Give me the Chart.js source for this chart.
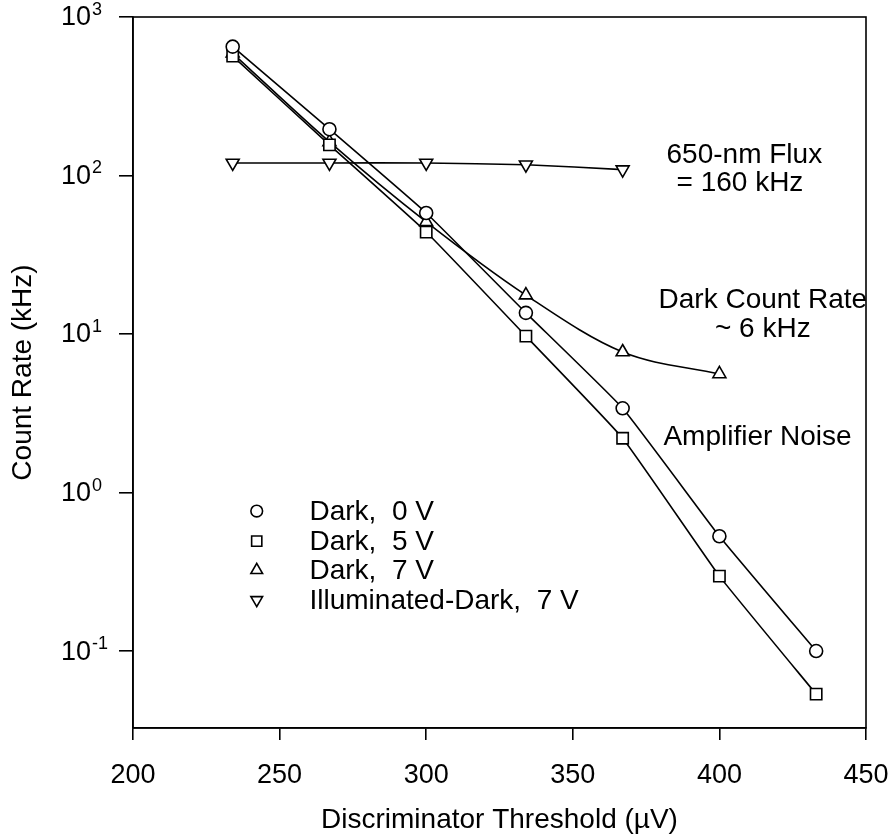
<!DOCTYPE html>
<html>
<head>
<meta charset="utf-8">
<style>
  html, body { margin: 0; padding: 0; background: #fff; }
  canvas { display: block; }
</style>
<script src="https://cdn.jsdelivr.net/npm/chart.js@4/dist/chart.umd.min.js"></script>
</head>
<body>
<canvas id="c" width="893" height="839"></canvas>
<script>
// ---- data ----
const thresholds = [234, 267, 300, 334, 367, 400, 433];          // µV
const dark0V  = [650, 196, 58, 13.6, 3.4, 0.53, 0.1];           // kHz
const dark5V  = [567, 156, 44, 9.7, 2.2, 0.297, 0.0535];
const dark7V  = [590, 163, 51, 17.6, 7.7, 5.6];
const illum7V = [120, 120, 120, 117, 109];
const seriesNames = ['Dark,  0 V', 'Dark,  5 V', 'Dark,  7 V', 'Illuminated-Dark,  7 V'];
const xTickValues = [200, 250, 300, 350, 400, 450];
const yTickValues = [0.1, 1, 10, 100, 1000];
const yTickBase = '10';
const yTickExponents = ['-1', '0', '1', '2', '3'];
const xTitle = 'Discriminator Threshold (\u00B5V)';
const yTitle = 'Count Rate (kHz)';
const noteTexts = ['650-nm Flux', '= 160 kHz', 'Dark Count Rate', '~ 6 kHz', 'Amplifier Noise'];

const FONT = "'Liberation Sans', Arial, Helvetica, sans-serif";
Chart.defaults.font.family = FONT;
Chart.defaults.color = '#000';

function pts(vals) { return vals.map((v, i) => ({ x: thresholds[i], y: v })); }

const markerStyles = [
  { pointStyle: 'circle', radius: 6.5, rotation: 0 },
  { pointStyle: 'rect', radius: 8, rotation: 0 },
  { pointStyle: 'triangle', radius: 7.5, rotation: 0 },
  { pointStyle: 'triangle', radius: 7.5, rotation: 180 }
];

function ds(label, vals, m, smooth) {
  const d = {
    label, data: pts(vals),
    borderColor: '#000', borderWidth: 1.6,
    pointStyle: m.pointStyle, pointRadius: m.radius, pointRotation: m.rotation,
    pointBackgroundColor: '#fff', pointBorderColor: '#000', pointBorderWidth: 1.6,
    fill: false
  };
  if (smooth) d.cubicInterpolationMode = 'monotone'; else d.tension = 0.12;
  return d;
}

// annotation placement in data coordinates (x µV, y kHz)
const notes = [
  { text: noteTexts[0], x: 408.5, y: 134 },
  { text: noteTexts[1], x: 407,   y: 89 },
  { text: noteTexts[2], x: 414.8, y: 16.4 },
  { text: noteTexts[3], x: 414.8, y: 10.7 },
  { text: noteTexts[4], x: 413,   y: 2.24 }
];
const legendPos = { markerX: 242.2, textX: 260.2, rows: [0.764, 0.494, 0.324, 0.21] };
const TEXT_PX = 28;

const overlay = {
  id: 'overlay',
  afterDraw(chart) {
    const { ctx, chartArea: a, scales: { x, y } } = chart;
    ctx.save();
    // frame
    ctx.strokeStyle = '#000';
    ctx.lineWidth = 1.6;
    ctx.strokeRect(a.left, a.top, a.right - a.left, a.bottom - a.top);
    // y tick labels as 10^n
    ctx.fillStyle = '#000';
    ctx.textBaseline = 'middle';
    ctx.textAlign = 'left';
    yTickValues.forEach((v, i) => {
      const py = y.getPixelForValue(v);
      const bx = a.left - 72;
      ctx.font = '27px ' + FONT;
      ctx.fillText(yTickBase, bx, py + 1);
      const w = ctx.measureText(yTickBase).width;
      ctx.font = '18px ' + FONT;
      ctx.fillText(yTickExponents[i], bx + w + 1, py - 7);
    });
    // annotations
    ctx.font = TEXT_PX + 'px ' + FONT;
    ctx.textAlign = 'center';
    notes.forEach(n => {
      ctx.fillText(n.text, x.getPixelForValue(n.x), y.getPixelForValue(n.y));
    });
    // legend
    ctx.textAlign = 'left';
    seriesNames.forEach((name, i) => {
      const py = y.getPixelForValue(legendPos.rows[i]);
      const m = markerStyles[i];
      ctx.fillStyle = '#fff';
      ctx.strokeStyle = '#000';
      ctx.lineWidth = 1.6;
      Chart.helpers.drawPoint(ctx, { pointStyle: m.pointStyle, rotation: m.rotation, radius: m.radius * 0.9, borderWidth: 1.6 },
        x.getPixelForValue(legendPos.markerX), py);
      ctx.fillStyle = '#000';
      ctx.font = TEXT_PX + 'px ' + FONT;
      ctx.fillText(name, x.getPixelForValue(legendPos.textX), py + 1);
    });
    ctx.restore();
  }
};

new Chart(document.getElementById('c'), {
  type: 'line',
  data: {
    datasets: [
      ds(seriesNames[0], dark0V, markerStyles[0], false),
      ds(seriesNames[1], dark5V, markerStyles[1], false),
      ds(seriesNames[2], dark7V, markerStyles[2], true),
      ds(seriesNames[3], illum7V, markerStyles[3], false)
    ]
  },
  options: {
    responsive: false,
    animation: false,
    devicePixelRatio: 1,
    layout: { padding: { left: 0, right: 27, top: 17, bottom: 0 } },
    plugins: { legend: { display: false }, tooltip: { enabled: false } },
    scales: {
      x: {
        type: 'linear', min: 200, max: 450,
        afterBuildTicks: s => { s.ticks = xTickValues.map(v => ({ value: v })); },
        afterFit: s => { s.height = 111; s.paddingLeft = 0; s.paddingRight = 0; },
        ticks: { font: { size: 27 }, color: '#000', padding: 19, maxRotation: 0 },
        grid: { display: true, drawOnChartArea: false, drawTicks: true, tickLength: 12, color: '#000', lineWidth: 1.6 },
        border: { display: true, color: '#000', width: 1.6 },
        title: { display: true, text: xTitle, font: { size: TEXT_PX }, color: '#000', padding: { top: 0, bottom: 2 } }
      },
      y: {
        type: 'logarithmic', min: 0.0327, max: 1000,
        afterBuildTicks: s => { s.ticks = yTickValues.map(v => ({ value: v })); },
        afterFit: s => { s.width = 133; s.paddingTop = 0; s.paddingBottom = 0; },
        ticks: { callback: () => '', font: { size: 27 } },
        grid: { display: true, drawOnChartArea: false, drawTicks: true, tickLength: 14, color: '#000', lineWidth: 1.6 },
        border: { display: true, color: '#000', width: 1.6 },
        title: { display: true, text: yTitle, font: { size: TEXT_PX }, color: '#000', padding: { top: 6, bottom: 0 } }
      }
    }
  },
  plugins: [overlay]
});
</script>
</body>
</html>
